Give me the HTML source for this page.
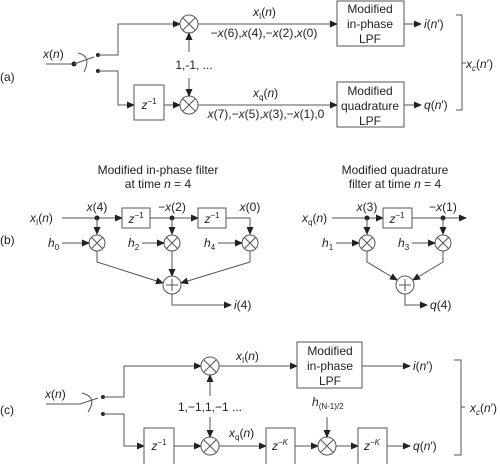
<!DOCTYPE html>
<html><head><meta charset="utf-8"><style>
html,body{margin:0;padding:0;background:#fff}
svg{display:block}
text{font-family:"Liberation Sans",sans-serif;font-size:12px;fill:#222}
.i{font-style:italic}
.l{stroke:#555;stroke-width:1;fill:none}
.b{stroke:#555;stroke-width:1;fill:#fff}
.d{fill:#222}
</style></head><body>
<svg width="500" height="464" viewBox="0 0 500 464">
<defs><marker id="a" markerWidth="8" markerHeight="8" refX="7" refY="4" orient="auto" markerUnits="userSpaceOnUse"><path d="M0,0.5 L8,4 L0,7.5 Z" fill="#222"/></marker></defs>

<g>
<text x="0" y="81">(a)</text>
<text x="43" y="58"><tspan class="i">x</tspan>(<tspan class="i">n</tspan>)</text>
<line class="l" x1="46" y1="64" x2="74" y2="64"/>
<circle class="d" cx="74" cy="64" r="2.5"/>
<line class="l" x1="74" y1="64" x2="94" y2="57"/>
<path class="l" d="M78,53 Q92,56 84,72"/>
<circle class="d" cx="98" cy="55" r="2"/><circle class="d" cx="98" cy="71" r="2"/>
<polyline class="l" points="98,55 118,55 118,24 180,24" marker-end="url(#a)"/>
<polyline class="l" points="98,71 118,71 118,105 134,105" marker-end="url(#a)"/>
<rect class="b" x="134" y="85" width="30" height="35"/>
<text x="149" y="109" text-anchor="middle"><tspan class="i">z</tspan><tspan dy="-5" font-size="8">−1</tspan></text>
<line class="l" x1="164" y1="105" x2="180" y2="105" marker-end="url(#a)"/>
<g><circle class="b" cx="189" cy="24" r="9"/><path class="l" d="M183,18 L195,30 M195,18 L183,30"/></g>
<g><circle class="b" cx="189" cy="105" r="9"/><path class="l" d="M183,99 L195,111 M195,99 L183,111"/></g>
<line class="l" x1="189" y1="52" x2="189" y2="33" marker-end="url(#a)"/>
<line class="l" x1="189" y1="78" x2="189" y2="96" marker-end="url(#a)"/>
<text x="194" y="69" text-anchor="middle">1,-1, ...</text>
<line class="l" x1="198" y1="24" x2="337" y2="24" marker-end="url(#a)"/>
<line class="l" x1="198" y1="105" x2="337" y2="105" marker-end="url(#a)"/>
<text x="253" y="16"><tspan class="i">x</tspan><tspan font-size="8" dy="3">I</tspan><tspan dy="-3">(</tspan><tspan class="i">n</tspan>)</text>
<text x="264" y="37" text-anchor="middle">−<tspan class="i">x</tspan>(6),<tspan class="i">x</tspan>(4),−<tspan class="i">x</tspan>(2),<tspan class="i">x</tspan>(0)</text>
<text x="253" y="97"><tspan class="i">x</tspan><tspan font-size="8" dy="3">q</tspan><tspan dy="-3">(</tspan><tspan class="i">n</tspan>)</text>
<text x="266" y="118" text-anchor="middle"><tspan class="i">x</tspan>(7),−<tspan class="i">x</tspan>(5),<tspan class="i">x</tspan>(3),−<tspan class="i">x</tspan>(1),0</text>
<rect class="b" x="337" y="1" width="67" height="45"/>
<text x="370" y="13" text-anchor="middle">Modified</text><text x="370" y="28" text-anchor="middle">in-phase</text><text x="370" y="43" text-anchor="middle">LPF</text>
<rect class="b" x="337" y="82" width="67" height="45"/>
<text x="370" y="95" text-anchor="middle">Modified</text><text x="370" y="110" text-anchor="middle">quadrature</text><text x="370" y="125" text-anchor="middle">LPF</text>
<line class="l" x1="404" y1="24" x2="421" y2="24" marker-end="url(#a)"/>
<line class="l" x1="404" y1="105" x2="421" y2="105" marker-end="url(#a)"/>
<text x="424" y="28"><tspan class="i">i</tspan>(<tspan class="i">n</tspan>′)</text>
<text x="424" y="109"><tspan class="i">q</tspan>(<tspan class="i">n</tspan>′)</text>
<polyline class="l" points="456,15 462,15 462,110 456,110"/>
<line class="l" x1="462" y1="63" x2="466" y2="63"/>
<text x="466" y="68"><tspan class="i">x</tspan><tspan class="i" font-size="8" dy="3">c</tspan><tspan dy="-3">(</tspan><tspan class="i">n</tspan>′)</text>
</g>

<g>
<text x="0" y="244">(b)</text>
<text x="158" y="174" text-anchor="middle">Modified in-phase filter</text>
<text x="158" y="188" text-anchor="middle">at time <tspan class="i">n</tspan> = 4</text>
<text x="395" y="174" text-anchor="middle">Modified quadrature</text>
<text x="395" y="188" text-anchor="middle">filter at time <tspan class="i">n</tspan> = 4</text>

<text x="30" y="222"><tspan class="i">x</tspan><tspan font-size="8" dy="3">I</tspan><tspan dy="-3">(</tspan><tspan class="i">n</tspan>)</text>
<line class="l" x1="62" y1="218" x2="122" y2="218" marker-end="url(#a)"/>
<rect class="b" x="122" y="208" width="28" height="20"/>
<text x="136" y="223" text-anchor="middle"><tspan class="i">z</tspan><tspan dy="-5" font-size="8">−1</tspan></text>
<line class="l" x1="150" y1="218" x2="198" y2="218" marker-end="url(#a)"/>
<rect class="b" x="198" y="208" width="28" height="20"/>
<text x="212" y="223" text-anchor="middle"><tspan class="i">z</tspan><tspan dy="-5" font-size="8">−1</tspan></text>
<polyline class="l" points="226,218 250,218 250,234" marker-end="url(#a)"/>
<circle class="d" cx="97" cy="218" r="2.5"/><circle class="d" cx="172" cy="218" r="2.5"/>
<line class="l" x1="97" y1="218" x2="97" y2="234" marker-end="url(#a)"/>
<line class="l" x1="172" y1="218" x2="172" y2="234" marker-end="url(#a)"/>
<text x="97" y="211" text-anchor="middle"><tspan class="i">x</tspan>(4)</text>
<text x="172" y="211" text-anchor="middle">−<tspan class="i">x</tspan>(2)</text>
<text x="250" y="211" text-anchor="middle"><tspan class="i">x</tspan>(0)</text>
<g><circle class="b" cx="97" cy="243" r="8"/><path class="l" d="M91.5,237.5 L102.5,248.5 M102.5,237.5 L91.5,248.5"/></g>
<g><circle class="b" cx="172" cy="243" r="8"/><path class="l" d="M166.5,237.5 L177.5,248.5 M177.5,237.5 L166.5,248.5"/></g>
<g><circle class="b" cx="250" cy="243" r="8"/><path class="l" d="M244.5,237.5 L255.5,248.5 M255.5,237.5 L244.5,248.5"/></g>
<text x="48" y="247" class="i">h<tspan font-size="8" dy="3" font-style="normal">0</tspan></text>
<text x="128" y="247" class="i">h<tspan font-size="8" dy="3" font-style="normal">2</tspan></text>
<text x="204" y="247" class="i">h<tspan font-size="8" dy="3" font-style="normal">4</tspan></text>
<line class="l" x1="62" y1="243" x2="89" y2="243" marker-end="url(#a)"/>
<line class="l" x1="142" y1="243" x2="164" y2="243" marker-end="url(#a)"/>
<line class="l" x1="218" y1="243" x2="242" y2="243" marker-end="url(#a)"/>
<polyline class="l" points="97,251 97,262 163,283" marker-end="url(#a)"/>
<line class="l" x1="172" y1="251" x2="172" y2="276" marker-end="url(#a)"/>
<polyline class="l" points="250,251 250,262 181,283" marker-end="url(#a)"/>
<g><circle class="b" cx="172" cy="285" r="9"/><path class="l" d="M172,279 V291 M166,285 H178"/></g>
<polyline class="l" points="172,294 172,305 231,305" marker-end="url(#a)"/>
<text x="234" y="309"><tspan class="i">i</tspan>(4)</text>

<text x="302" y="222"><tspan class="i">x</tspan><tspan font-size="8" dy="3">q</tspan><tspan dy="-3">(</tspan><tspan class="i">n</tspan>)</text>
<line class="l" x1="332" y1="218" x2="383" y2="218" marker-end="url(#a)"/>
<rect class="b" x="383" y="208" width="29" height="20"/>
<text x="397" y="223" text-anchor="middle"><tspan class="i">z</tspan><tspan dy="-5" font-size="8">−1</tspan></text>
<line class="l" x1="412" y1="218" x2="466" y2="218" marker-end="url(#a)"/>
<circle class="d" cx="367" cy="218" r="2.5"/><circle class="d" cx="443" cy="218" r="2.5"/>
<line class="l" x1="367" y1="218" x2="367" y2="234" marker-end="url(#a)"/>
<line class="l" x1="443" y1="218" x2="443" y2="234" marker-end="url(#a)"/>
<text x="367" y="211" text-anchor="middle"><tspan class="i">x</tspan>(3)</text>
<text x="443" y="211" text-anchor="middle">−<tspan class="i">x</tspan>(1)</text>
<g><circle class="b" cx="367" cy="243" r="8"/><path class="l" d="M361.5,237.5 L372.5,248.5 M372.5,237.5 L361.5,248.5"/></g>
<g><circle class="b" cx="443" cy="243" r="8"/><path class="l" d="M437.5,237.5 L448.5,248.5 M448.5,237.5 L437.5,248.5"/></g>
<text x="322" y="247" class="i">h<tspan font-size="8" dy="3" font-style="normal">1</tspan></text>
<text x="398" y="247" class="i">h<tspan font-size="8" dy="3" font-style="normal">3</tspan></text>
<line class="l" x1="336" y1="243" x2="359" y2="243" marker-end="url(#a)"/>
<line class="l" x1="412" y1="243" x2="435" y2="243" marker-end="url(#a)"/>
<polyline class="l" points="367,251 367,262 397,280" marker-end="url(#a)"/>
<polyline class="l" points="443,251 443,262 413,280" marker-end="url(#a)"/>
<g><circle class="b" cx="405" cy="285" r="9"/><path class="l" d="M405,279 V291 M399,285 H411"/></g>
<polyline class="l" points="405,294 405,305 427,305" marker-end="url(#a)"/>
<text x="430" y="309"><tspan class="i">q</tspan>(4)</text>
</g>

<g>
<text x="0" y="414">(c)</text>
<text x="45" y="398"><tspan class="i">x</tspan>(<tspan class="i">n</tspan>)</text>
<line class="l" x1="46" y1="404" x2="80" y2="404"/>
<line class="l" x1="80" y1="404" x2="98" y2="398"/>
<path class="l" d="M82,393 Q98,397 88,412"/>
<circle class="d" cx="103" cy="397" r="2"/><circle class="d" cx="103" cy="414" r="2"/>
<polyline class="l" points="103,397 124,397 124,366 201,366" marker-end="url(#a)"/>
<polyline class="l" points="103,414 124,414 124,446 144,446" marker-end="url(#a)"/>
<rect class="b" x="144" y="428" width="30" height="40"/>
<text x="159" y="450" text-anchor="middle"><tspan class="i">z</tspan><tspan dy="-5" font-size="8">−1</tspan></text>
<line class="l" x1="174" y1="446" x2="201" y2="446" marker-end="url(#a)"/>
<g><circle class="b" cx="210" cy="366" r="9"/><path class="l" d="M204,360 L216,372 M216,360 L204,372"/></g>
<g><circle class="b" cx="210" cy="446" r="9"/><path class="l" d="M204,440 L216,452 M216,440 L204,452"/></g>
<line class="l" x1="210" y1="396" x2="210" y2="375" marker-end="url(#a)"/>
<line class="l" x1="210" y1="417" x2="210" y2="437" marker-end="url(#a)"/>
<text x="210" y="411" text-anchor="middle">1,−1,1,−1 ...</text>
<line class="l" x1="219" y1="366" x2="297" y2="366" marker-end="url(#a)"/>
<text x="236" y="360"><tspan class="i">x</tspan><tspan font-size="8" dy="3">I</tspan><tspan dy="-3">(</tspan><tspan class="i">n</tspan>)</text>
<rect class="b" x="297" y="342" width="65" height="46"/>
<text x="330" y="355" text-anchor="middle">Modified</text><text x="330" y="370" text-anchor="middle">in-phase</text><text x="330" y="385" text-anchor="middle">LPF</text>
<line class="l" x1="362" y1="366" x2="410" y2="366" marker-end="url(#a)"/>
<text x="413" y="370"><tspan class="i">i</tspan>(<tspan class="i">n</tspan>′)</text>
<line class="l" x1="219" y1="446" x2="266" y2="446" marker-end="url(#a)"/>
<text x="229" y="437"><tspan class="i">x</tspan><tspan font-size="8" dy="3">q</tspan><tspan dy="-3">(</tspan><tspan class="i">n</tspan>)</text>
<rect class="b" x="266" y="428" width="29" height="40"/>
<text x="280" y="450" text-anchor="middle"><tspan class="i">z</tspan><tspan dy="-5" font-size="8">−<tspan class="i">K</tspan></tspan></text>
<line class="l" x1="295" y1="446" x2="318" y2="446" marker-end="url(#a)"/>
<g><circle class="b" cx="327" cy="446" r="9"/><path class="l" d="M321,440 L333,452 M333,440 L321,452"/></g>
<text x="312" y="406" class="i">h<tspan font-size="8" dy="3" font-style="normal">(N-1)/2</tspan></text>
<line class="l" x1="327" y1="417" x2="327" y2="437" marker-end="url(#a)"/>
<line class="l" x1="336" y1="446" x2="358" y2="446" marker-end="url(#a)"/>
<rect class="b" x="358" y="428" width="29" height="40"/>
<text x="372" y="450" text-anchor="middle"><tspan class="i">z</tspan><tspan dy="-5" font-size="8">−<tspan class="i">K</tspan></tspan></text>
<line class="l" x1="387" y1="446" x2="410" y2="446" marker-end="url(#a)"/>
<text x="413" y="450"><tspan class="i">q</tspan>(<tspan class="i">n</tspan>′)</text>
<polyline class="l" points="454,360 461,360 461,455 454,455"/>
<line class="l" x1="461" y1="407" x2="465" y2="407"/>
<text x="470" y="412"><tspan class="i">x</tspan><tspan class="i" font-size="8" dy="3">c</tspan><tspan dy="-3">(</tspan><tspan class="i">n</tspan>′)</text>
</g>
</svg>
</body></html>
